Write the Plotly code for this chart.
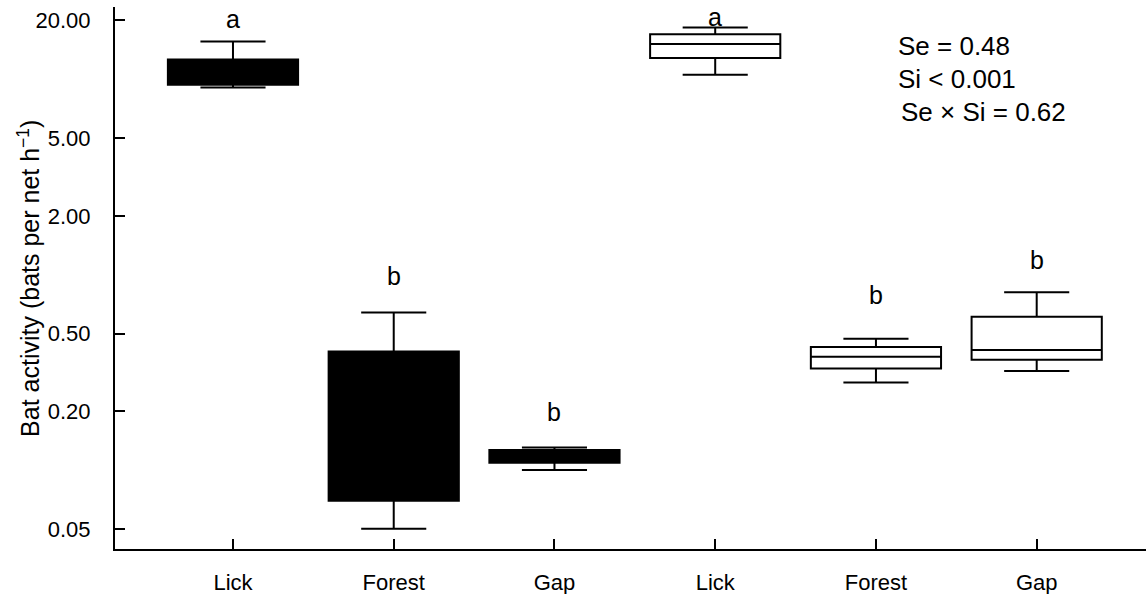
import numpy as np
import plotly.graph_objects as go

# ---- data ----
categories = ["Lick", "Forest", "Gap", "Lick", "Forest", "Gap"]
cat_index = [0, 1, 2, 3, 4, 5]
lower_whisker = [9.08, 0.0502, 0.1003, 10.55, 0.281, 0.322]
q1 = [9.38, 0.0698, 0.1094, 12.84, 0.332, 0.3676]
median = [10.8, 0.20, 0.118, 15.15, 0.381, 0.412]
q3 = [12.6, 0.405, 0.127, 16.96, 0.427, 0.610]
upper_whisker = [15.6, 0.642, 0.131, 18.4, 0.471, 0.813]
letters = ["a", "b", "b", "a", "b", "b"]
letter_y = [20.2, 0.989, 0.198, 20.9, 0.791, 1.19]
ytick_vals = [0.05, 0.2, 0.5, 2, 5, 20]
ytick_text = ["0.05", "0.20", "0.50", "2.00", "5.00", "20.00"]
stats_text = ["Se = 0.48", "Si < 0.001", "Se \u00d7 Si = 0.62"]
y_title = "Bat activity (bats per net h<sup>\u22121</sup>)"

FONT = "Liberation Sans, Arial, sans-serif"

fig = go.Figure()

groups = [(slice(0, 3), "black"), (slice(3, 6), "white")]
for sl, fill in groups:
    fig.add_trace(go.Box(
        x=cat_index[sl],
        q1=q1[sl], median=median[sl], q3=q3[sl],
        lowerfence=lower_whisker[sl], upperfence=upper_whisker[sl],
        fillcolor=fill,
        line=dict(color="black", width=2),
        width=0.81,
        whiskerwidth=0.5,
        boxpoints=False,
        hoverinfo="skip",
        showlegend=False,
    ))

annotations = []
for xi, lab, ly in zip(cat_index, letters, letter_y):
    annotations.append(dict(
        x=xi, y=np.log10(ly), xref="x", yref="y", text=lab,
        showarrow=False, xanchor="center", yanchor="middle",
        font=dict(family=FONT, size=25, color="black"),
    ))

stat_y = [0.928, 0.867, 0.807]
stat_x = [0.7575, 0.7575, 0.760]
for t, sx, sy in zip(stats_text, stat_x, stat_y):
    annotations.append(dict(
        x=sx, y=sy, xref="paper", yref="paper", text=t,
        showarrow=False, xanchor="left", yanchor="middle",
        font=dict(family=FONT, size=26, color="black"),
    ))

annotations.append(dict(
    x=-0.0835, y=0.5, xref="paper", yref="paper", text=y_title,
    textangle=-90, showarrow=False, xanchor="center", yanchor="middle",
    font=dict(family=FONT, size=25, color="black"),
))

fig.update_layout(
    width=1146, height=594,
    margin=dict(l=115, r=0, t=7, b=45),
    paper_bgcolor="white", plot_bgcolor="white",
    font=dict(family=FONT, size=22, color="black"),
    annotations=annotations,
    boxmode="overlay",
    xaxis=dict(
        range=[-0.734, 5.68],
        tickvals=cat_index, ticktext=categories,
        ticks="inside", ticklen=10, tickwidth=2, tickcolor="black",
        showline=True, linecolor="black", linewidth=2,
        showgrid=False, zeroline=False,
        tickfont=dict(family=FONT, size=22, color="black"),
        ticklabelstandoff=13,
    ),
    yaxis=dict(
        type="log",
        range=[np.log10(0.0396), np.log10(23.4)],
        tickvals=ytick_vals, ticktext=ytick_text,
        ticks="inside", ticklen=10, tickwidth=2, tickcolor="black",
        showline=True, linecolor="black", linewidth=2,
        showgrid=False, zeroline=False,
        tickfont=dict(family=FONT, size=22, color="black"),
        ticklabelstandoff=18,
    ),
)

fig.write_html("out.html", config={"displayModeBar": False},
               post_script="document.body.style.margin='0';")
